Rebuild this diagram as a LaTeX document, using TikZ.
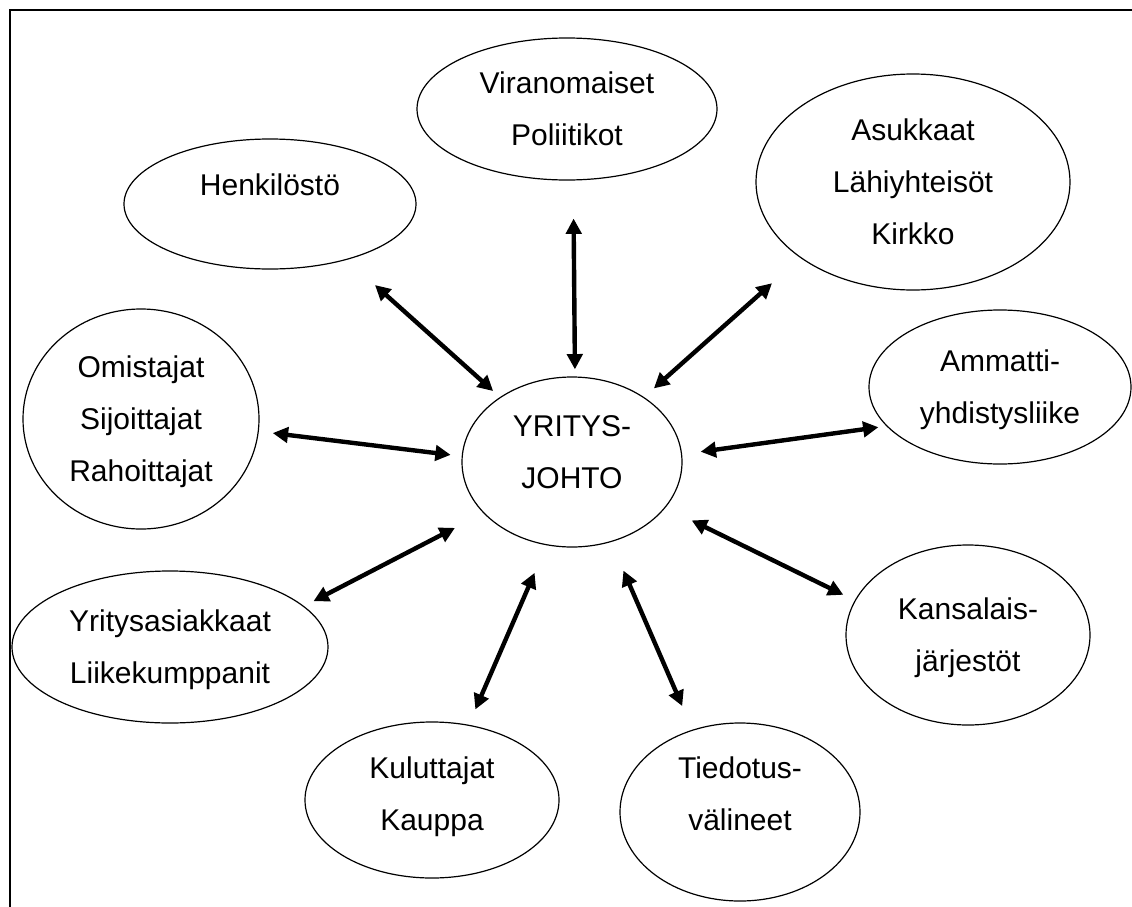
\documentclass[tikz,border=0pt]{standalone}
\usepackage{fontspec}
\setmainfont{Liberation Sans}
\usetikzlibrary{shapes.geometric,arrows.meta}

% text block, centred on the node, raised by the optional amount
\newcommand{\lbl}[2][0pt]{\raisebox{\dimexpr#1-.5\height+.5\depth\relax}[0pt][0pt]{\begin{tabular}{@{}c@{}}#2\end{tabular}}}

\begin{document}
\begin{tikzpicture}
    [
        x=0.75pt, y=-0.75pt,
        bubble/.style 2 args={ellipse, draw=black, line width=0.9pt, inner sep=0pt, minimum width=#1, minimum height=#2, font=\fontsize{22.5}{39}\selectfont},
        arrow/.style={{Triangle[length=11.5pt,width=11.5pt]}-{Triangle[length=11.5pt,width=11.5pt]}, line width=3.3pt}
    ]
    \useasboundingbox (0,0) rectangle (1132,907);
    % Frame
    \draw[line width=1.5pt] (10,907) -- (10,10) -- (1132,10);

    % Nodes
    \node[bubble={165pt}{127.5pt}] (johto) at (572,462) {\lbl[7.5pt]{YRITYS-\\JOHTO}};
    \node[bubble={225pt}{106.5pt}] (viran) at (567,109) {\lbl{Viranomaiset\\Poliitikot}};
    \node[bubble={219pt}{97.5pt}] (henk) at (270,204) {\lbl[14.25pt]{Henkilöstö}};
    \node[bubble={235.5pt}{162pt}] (asuk) at (913,182) {\lbl{Asukkaat\\Lähiyhteisöt\\Kirkko}};
    \node[bubble={177pt}{165pt}] (omis) at (141,419) {\lbl{Omistajat\\Sijoittajat\\Rahoittajat}};
    \node[bubble={196.5pt}{115.5pt}] (ammat) at (1000,387) {\lbl{Ammatti-\\yhdistysliike}};
    \node[bubble={237pt}{114pt}] (yrit) at (170,647) {\lbl{Yritysasiakkaat\\Liikekumppanit}};
    \node[bubble={183pt}{135pt}] (kans) at (968,635) {\lbl{Kansalais-\\järjestöt}};
    \node[bubble={190.5pt}{117pt}] (kulu) at (432,800) {\lbl[4.5pt]{Kuluttajat\\Kauppa}};
    \node[bubble={180pt}{133.5pt}] (tied) at (740,812) {\lbl[13.5pt]{Tiedotus-\\välineet}};

    % Arrows
    \draw[arrow, shorten <=5.3pt, shorten >=28.5pt] (johto.88.1) -- (viran.-85.8);
    \draw[arrow, shorten <=6.8pt, shorten >=28.3pt] (johto.138.5) -- (henk.-36.3);
    \draw[arrow, shorten <=9.8pt, shorten >=28.5pt] (johto.42.8) -- (asuk.-146.5);
    \draw[arrow, shorten <=8.3pt, shorten >=10.5pt] (johto.177.6) -- (omis.-6.1);
    \draw[arrow, shorten <=14pt, shorten >=6pt] (johto.4.5) -- (ammat.-161.3);
    \draw[arrow, shorten <=24pt, shorten >=8pt] (johto.-150.6) -- (yrit.17.6);
    \draw[arrow, shorten <=21.8pt, shorten >=9.5pt] (johto.-26.9) -- (kans.163.1);
    \draw[arrow, shorten <=22.5pt, shorten >=12.5pt] (johto.-107.5) -- (kulu.64.5);
    \draw[arrow, shorten <=23.3pt, shorten >=19.3pt] (johto.-64.7) -- (tied.120);
\end{tikzpicture}
\end{document}
